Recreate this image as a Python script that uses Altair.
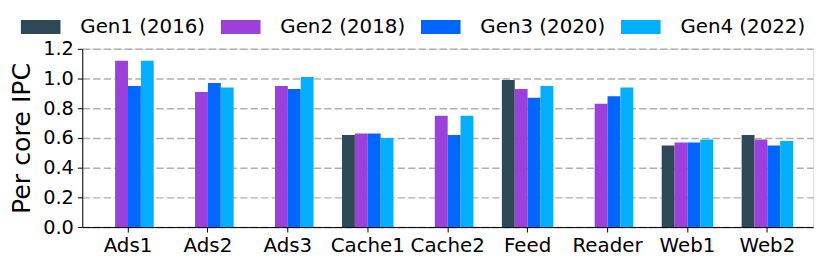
import altair as alt
import pandas as pd

categories = ["Ads1", "Ads2", "Ads3", "Cache1", "Cache2", "Feed", "Reader", "Web1", "Web2"]
gens = ["Gen1 (2016)", "Gen2 (2018)", "Gen3 (2020)", "Gen4 (2022)"]
colors = ["#2f4858", "#9b40da", "#0066ff", "#00b0ff"]

gen1 = [None, None, None, 0.62, None, 0.99, None, 0.55, 0.62]
gen2 = [1.12, 0.91, 0.95, 0.63, 0.75, 0.93, 0.83, 0.57, 0.59]
gen3 = [0.95, 0.97, 0.93, 0.63, 0.62, 0.87, 0.88, 0.57, 0.55]
gen4 = [1.12, 0.94, 1.01, 0.60, 0.75, 0.95, 0.94, 0.59, 0.58]

y_ticks = [0.0, 0.2, 0.4, 0.6, 0.8, 1.0, 1.2]

rows = []
for g, series in zip(gens, [gen1, gen2, gen3, gen4]):
    for c, v in zip(categories, series):
        if v is not None:
            rows.append({"workload": c, "gen": g, "ipc": v})
df = pd.DataFrame(rows)

FONT = "DejaVu Sans"

bars = alt.Chart(df).mark_bar().encode(
    x=alt.X("workload:N", sort=categories,
            scale=alt.Scale(domain=categories, paddingInner=0.356, paddingOuter=0.25),
            axis=alt.Axis(title=None, labelAngle=0, labelFontSize=20, labelFont=FONT,
                          labelColor="black", tickColor="black", tickSize=5,
                          labelPadding=4, domainColor="black", grid=False)),
    xOffset=alt.XOffset("gen:N", sort=gens,
                        scale=alt.Scale(domain=gens, paddingInner=0, paddingOuter=0)),
    y=alt.Y("ipc:Q", scale=alt.Scale(domain=[0, 1.2], nice=False),
            axis=alt.Axis(title="Per core IPC", values=y_ticks, format=".1f",
                          labelFontSize=19.5, labelFont=FONT, labelColor="black",
                          titleFontSize=25.5, titleFont=FONT, titleFontWeight="normal",
                          titleColor="black", titlePadding=8,
                          tickColor="black", tickSize=5, labelPadding=4,
                          domainColor="black",
                          grid=True, gridColor="#b0b0b0", gridDash=[7.4, 3.2],
                          gridWidth=1.5)),
    color=alt.Color("gen:N", sort=gens,
                    scale=alt.Scale(domain=gens, range=colors),
                    legend=alt.Legend(title=None, orient="none", direction="horizontal",
                                      legendX=-62, legendY=-42,
                                      symbolType="M-1,-0.35L1,-0.35L1,0.35L-1,0.35Z",
                                      symbolSize=1600, symbolStrokeWidth=0,
                                      symbolOpacity=1,
                                      labelFontSize=20, labelFont=FONT,
                                      labelColor="black", labelOffset=20,
                                      columnPadding=15)),
).properties(width=738, height=180)

chart = bars.configure_view(stroke="black", strokeWidth=1).configure(
    padding={"left": 75, "top": 40, "right": 10, "bottom": 31},
    autosize=alt.AutoSizeParams(type="none"),
)

chart.save("out.html", embed_options={"renderer": "svg", "actions": False})
